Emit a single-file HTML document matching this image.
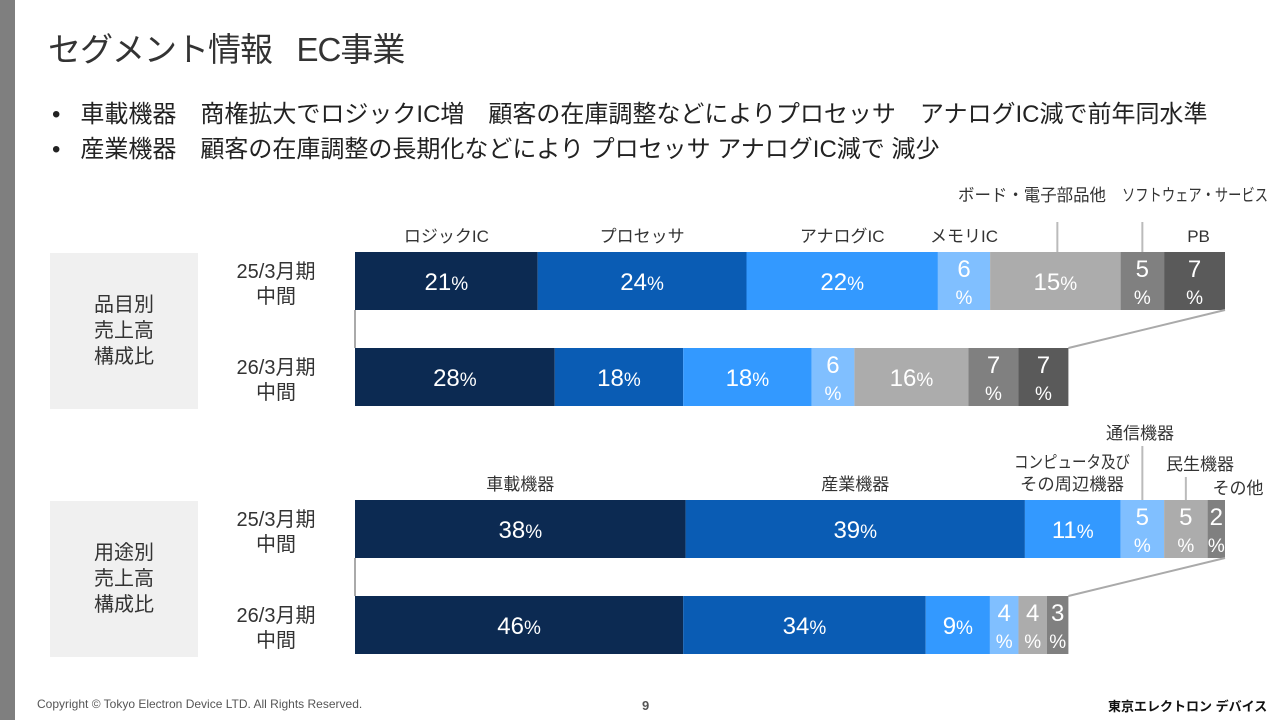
<!DOCTYPE html>
<html><head><meta charset="utf-8"><style>
body{margin:0;width:1280px;height:720px;background:#fff;position:relative;overflow:hidden;font-family:"Liberation Sans","Noto Sans CJK JP",sans-serif;color:#333}
.a{position:absolute;white-space:nowrap}
</style></head><body>
<div class="a" style="left:0;top:0;width:15px;height:720px;background:#7f7f7f"></div>
<div class="a" style="left:48px;top:23px;font-size:33px;color:#333;letter-spacing:-1px">セグメント情報&nbsp;&nbsp;&nbsp;EC事業</div>
<div class="a" style="left:52px;top:94px;font-size:24px;color:#222">•&nbsp;&nbsp;&nbsp;車載機器　商権拡大でロジックIC増　顧客の在庫調整などによりプロセッサ　アナログIC減で前年同水準</div>
<div class="a" style="left:52px;top:129px;font-size:24px;color:#222">•&nbsp;&nbsp;&nbsp;産業機器　顧客の在庫調整の長期化などにより プロセッサ アナログIC減で 減少</div>
<svg id="c" class="a" style="left:0;top:0" width="1280" height="720"></svg>
<div class="a" style="left:37px;top:697px;font-size:12px;color:#555">Copyright © Tokyo Electron Device LTD. All Rights Reserved.</div>
<div class="a" style="left:642px;top:698px;font-size:13px;font-weight:bold;color:#555">9</div>
<div class="a" style="left:1108px;top:696px;font-size:13px;font-weight:bold;color:#111">東京エレクトロン デバイス</div>
<script>
const productCats=['ロジックIC','プロセッサ','アナログIC','メモリIC','ボード・電子部品他','ソフトウェア・サービス','PB'];
const product25=[21,24,22,6,15,5,7];
const product26=[28,18,18,6,16,7,7];
const useCats=['車載機器','産業機器','コンピュータ及び/その周辺機器','通信機器','民生機器','その他'];
const use25=[38,39,11,5,5,2];
const use26=[46,34,9,4,4,3];
const rowScale=[1,0.82];
const periods=['25/3月期','26/3月期'];
const prodColors=['#0c2a52','#0a5cb4','#3399ff','#80bfff','#acacac','#808080','#5a5a5a'];
const useColors=['#0c2a52','#0a5cb4','#3399ff','#80bfff','#acacac','#808080'];
const svg=document.getElementById('c');const NS='http://www.w3.org/2000/svg';
function el(t,at,txt){const e=document.createElementNS(NS,t);for(const k in at)e.setAttribute(k,at[k]);if(txt!=null)e.textContent=txt;svg.appendChild(e);return e;}
const X0=355,FULL=870,H=58;
const x=(cum,s)=>X0+cum*FULL/100*s;
function drawRow(vals,cols,y,s,name){
 let cum=0;const xs=[];
 vals.forEach((v,i)=>{const x1=x(cum,s),x2=x(cum+v,s);xs.push([x1,x2]);
  const r=el('rect',{x:x1,y:y,width:x2-x1,height:H,fill:cols[i]});
  
  const cx=(x1+x2)/2;
  if(x2-x1>62){const t=el('text',{x:cx,y:y+38,'text-anchor':'middle',fill:'#fff','font-size':24});
   
   t.innerHTML=v+'<tspan font-size="19">%</tspan>';}
  else{const t=el('text',{x:cx,y:y+25,'text-anchor':'middle',fill:'#fff','font-size':24},v);
   
   const p=el('text',{x:cx,y:y+52,'text-anchor':'middle',fill:'#fff','font-size':19},'%');
   }
  cum+=v;});
 return xs;}
function block(v25,v26,cols,y1,y2,name,boxTitle){
 const b=el('rect',{x:50,y:y1+1,width:148,height:156,fill:'#f0f0f0'});
 
 boxTitle.forEach((t,i)=>{const e=el('text',{x:124,y:y1+59+i*26,'text-anchor':'middle','font-size':20,fill:'#333'},t);
  });
 [y1,y2].forEach((y,i)=>{
  const a=el('text',{x:276,y:y+26,'text-anchor':'middle','font-size':20,fill:'#333'},periods[i]);
  
  const c=el('text',{x:276,y:y+51,'text-anchor':'middle','font-size':20,fill:'#333'},'中間');
  });
 const xs=drawRow(v25,cols,y1,rowScale[0],name+'-25');
 drawRow(v26,cols,y2,rowScale[1],name+'-26');
 const l1=el('line',{x1:X0,y1:y1+H,x2:X0,y2:y2,stroke:'#aaa','stroke-width':2});
 
 const l2=el('line',{x1:x(100,rowScale[0]),y1:y1+H,x2:x(100,rowScale[1]),y2:y2,stroke:'#aaa','stroke-width':2});
 
 return xs;}
function lab(t,cx,y,name,len){const at={x:cx,y:y,'text-anchor':'middle','font-size':17,fill:'#333'};
 if(len){at.textLength=len;at.lengthAdjust='spacingAndGlyphs';}
 const e=el('text',at,t);
 }
function lead(lx,ya,yb,name){const e=el('line',{x1:lx,y1:ya,x2:lx,y2:yb,stroke:'#bbb','stroke-width':2});
 }
const px=block(product25,product26,prodColors,252,348,'product',['品目別','売上高','構成比']);
const mid=i=>(px[i][0]+px[i][1])/2;
for(let i=0;i<4;i++)lab(productCats[i],mid(i),242,'product-category-'+i);
lab(productCats[4],1032,201,'product-category-4',148);lead(mid(4)+2,222,252,'product-leader-4');
lab(productCats[5],1195,201,'product-category-5',146);lead(mid(5),222,252,'product-leader-5');
lab(productCats[6],mid(6)+4,242,'product-category-6');
const ux=block(use25,use26,useColors,500,596,'usage',['用途別','売上高','構成比']);
const um=i=>(ux[i][0]+ux[i][1])/2;
lab(useCats[0],um(0),490,'usage-category-0');lab(useCats[1],um(1),490,'usage-category-1');
const cc=useCats[2].split('/');lab(cc[0],1072,468,'usage-category-2a',116);lab(cc[1],1072,490,'usage-category-2b',104);
lab(useCats[3],1140,439,'usage-category-3');lead(um(3),446,500,'usage-leader-3');
lab(useCats[4],1200,470,'usage-category-4');lead(um(4),477,500,'usage-leader-4');
lab(useCats[5],1238,494,'usage-category-5');
</script>
</body></html>
